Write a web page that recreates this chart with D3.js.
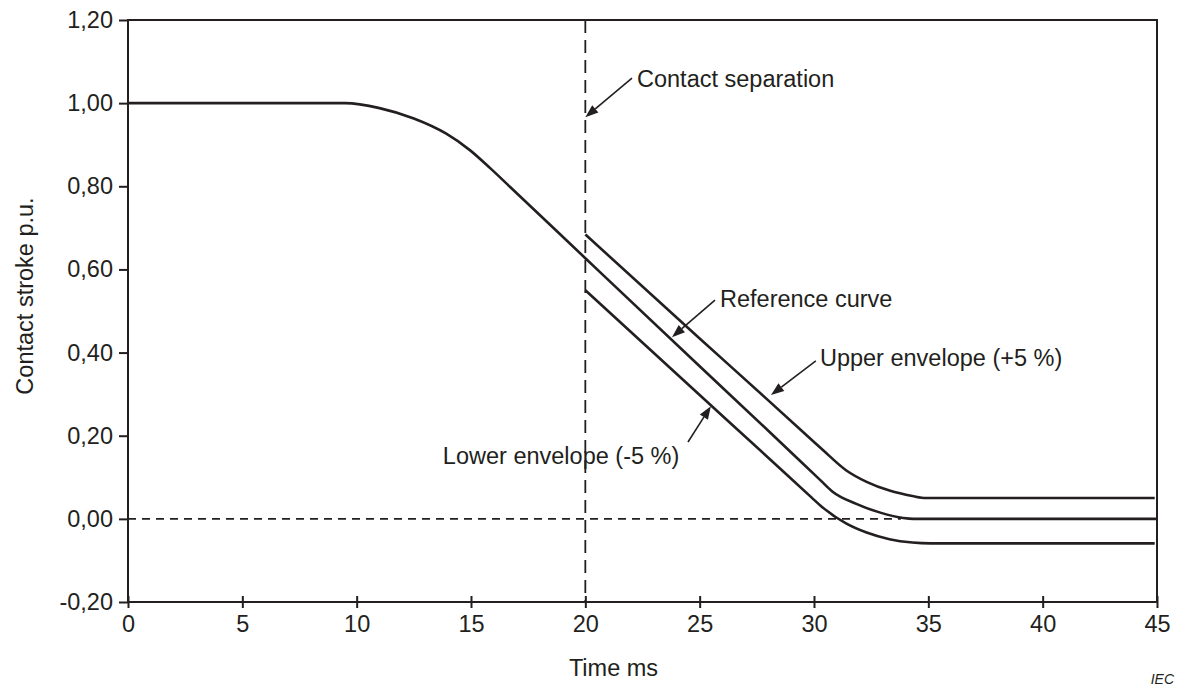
<!DOCTYPE html>
<html>
<head>
<meta charset="utf-8">
<script src="https://cdn.jsdelivr.net/npm/d3@7/dist/d3.min.js"></script>
<style>
  html, body { margin: 0; padding: 0; background: #fff; }
  svg { display: block; font-family: "Liberation Sans", Arial, sans-serif; }
</style>
</head>
<body>
<svg id="chart" width="1179" height="688"></svg>
<script>
// Contact stroke (p.u.) versus time (ms)
const timeMs     = [0, 9.5, 11.0, 12.5, 13.9, 14.95, 15.85, 16.7, 20, 25, 28, 30.3, 30.8, 31.85, 32.9, 33.9, 34.35, 45];
const referenceCurve = [1.00, 1.00, 0.988, 0.963, 0.927, 0.887, 0.843, 0.799, 0.627, 0.367, 0.212, 0.092, 0.066, 0.036, 0.015, 0.002, 0.0, 0.0];

const upperTime  = [20, 25, 28, 30.0, 30.4, 31.4, 32.3, 33.3, 34.3, 34.9, 44.9];
const upperEnvelope = [0.684, 0.434, 0.285, 0.185, 0.165, 0.117, 0.089, 0.068, 0.055, 0.050, 0.050];

const lowerTime  = [20, 25, 28, 29.9, 30.3, 31.4, 32.3, 33.3, 34.3, 35.1, 44.9];
const lowerEnvelope = [0.550, 0.298, 0.147, 0.051, 0.031, -0.011, -0.033, -0.049, -0.057, -0.059, -0.059];

const xTicks = [0, 5, 10, 15, 20, 25, 30, 35, 40, 45];
const yTicks = [-0.20, 0.00, 0.20, 0.40, 0.60, 0.80, 1.00, 1.20];
const contactSeparationMs = 20;
const zeroLineEndMs = 33.8;

const ink = "#231f20";
const fontSize = 23.5;

const svg = d3.select("#chart");
const plotLeft = 128, plotRight = 1157, plotTop = 20, plotBottom = 602;

const x = d3.scaleLinear().domain([0, 45]).range([plotLeft, plotRight]);
const y = d3.scaleLinear().domain([-0.20, 1.20]).range([plotBottom, plotTop]);

const fmt = v => d3.format(".2f")(v).replace(".", ",").replace("−", "-");

// Reference lines: zero level and contact separation instant
svg.append("line")
  .attr("x1", x(0)).attr("x2", x(zeroLineEndMs))
  .attr("y1", y(0)).attr("y2", y(0))
  .attr("stroke", ink).attr("stroke-width", 1.6)
  .attr("stroke-dasharray", "8,6");

svg.append("line")
  .attr("x1", x(contactSeparationMs)).attr("x2", x(contactSeparationMs))
  .attr("y1", y(1.20)).attr("y2", y(-0.20))
  .attr("stroke", ink).attr("stroke-width", 1.8)
  .attr("stroke-dasharray", "13,7");

// Curves
const line = d3.line()
  .x(d => x(d[0])).y(d => y(d[1]))
  .curve(d3.curveMonotoneX);

const series = [
  d3.zip(timeMs, referenceCurve),
  d3.zip(upperTime, upperEnvelope),
  d3.zip(lowerTime, lowerEnvelope)
];
svg.append("g").selectAll("path").data(series).join("path")
  .attr("d", line)
  .attr("fill", "none")
  .attr("stroke", ink)
  .attr("stroke-width", 2.6)
  .attr("stroke-linejoin", "round");

// Axes
const yAxis = svg.append("g")
  .attr("transform", `translate(${plotLeft},0)`)
  .call(d3.axisLeft(y).tickValues(yTicks).tickFormat(fmt).tickSize(9).tickPadding(6));
yAxis.select(".domain").remove();
yAxis.selectAll("line").attr("stroke", ink).attr("stroke-width", 2);
yAxis.selectAll("text").attr("fill", ink).style("font-size", fontSize + "px")
  .style("font-family", "'Liberation Sans', Arial, sans-serif");

const xAxis = svg.append("g")
  .attr("transform", `translate(0,${plotBottom})`)
  .call(d3.axisBottom(x).tickValues(xTicks).tickFormat(d3.format("d")).tickSize(6).tickPadding(7));
xAxis.select(".domain").remove();
xAxis.selectAll("line").attr("y1", -6).attr("y2", 6).attr("stroke", ink).attr("stroke-width", 2);
xAxis.selectAll("text").attr("fill", ink).style("font-size", fontSize + "px")
  .style("font-family", "'Liberation Sans', Arial, sans-serif");

// Plot frame
svg.append("rect")
  .attr("x", plotLeft).attr("y", plotTop)
  .attr("width", plotRight - plotLeft).attr("height", plotBottom - plotTop)
  .attr("fill", "none").attr("stroke", ink).attr("stroke-width", 2);

// Axis titles
svg.append("text")
  .attr("x", (plotLeft + plotRight) / 2 - 29).attr("y", 676)
  .attr("text-anchor", "middle")
  .attr("fill", ink).style("font-size", fontSize + "px")
  .text("Time ms");

svg.append("text")
  .attr("transform", "translate(33,296) rotate(-90)")
  .attr("text-anchor", "middle")
  .attr("fill", ink).style("font-size", fontSize + "px")
  .text("Contact stroke p.u.");

// Annotations with arrows
const notes = [
  { text: "Contact separation",    tail: [22.04, 1.060], tip: [20.0, 0.966],  at: [22.26, 1.040] },
  { text: "Reference curve",       tail: [25.67, 0.526], tip: [23.79, 0.437], at: [25.89, 0.509] },
  { text: "Upper envelope (+5 %)", tail: [30.08, 0.380], tip: [28.12, 0.298], at: [30.26, 0.367] },
  { text: "Lower envelope (-5 %)", tail: [24.49, 0.185], tip: [25.49, 0.271], at: [13.77, 0.132] }
];

const headLen = 13, headHalf = 4.8;
notes.forEach(n => {
  const x0 = x(n.tail[0]), y0 = y(n.tail[1]);
  const x1 = x(n.tip[0]),  y1 = y(n.tip[1]);
  const a = Math.atan2(y1 - y0, x1 - x0);
  const bx = x1 - headLen * Math.cos(a), by = y1 - headLen * Math.sin(a);
  svg.append("line")
    .attr("x1", x0).attr("y1", y0).attr("x2", bx).attr("y2", by)
    .attr("stroke", ink).attr("stroke-width", 1.6);
  const px = -Math.sin(a) * headHalf, py = Math.cos(a) * headHalf;
  svg.append("path")
    .attr("d", `M${x1},${y1}L${bx + px},${by + py}L${bx - px},${by - py}Z`)
    .attr("fill", ink);
  svg.append("text")
    .attr("x", x(n.at[0])).attr("y", y(n.at[1]))
    .attr("fill", ink).style("font-size", fontSize + "px")
    .text(n.text);
});

// Source mark
svg.append("text")
  .attr("x", 1174).attr("y", 684)
  .attr("text-anchor", "end")
  .attr("fill", ink)
  .style("font-size", "14px").style("font-style", "italic")
  .text("IEC");
</script>
</body>
</html>
